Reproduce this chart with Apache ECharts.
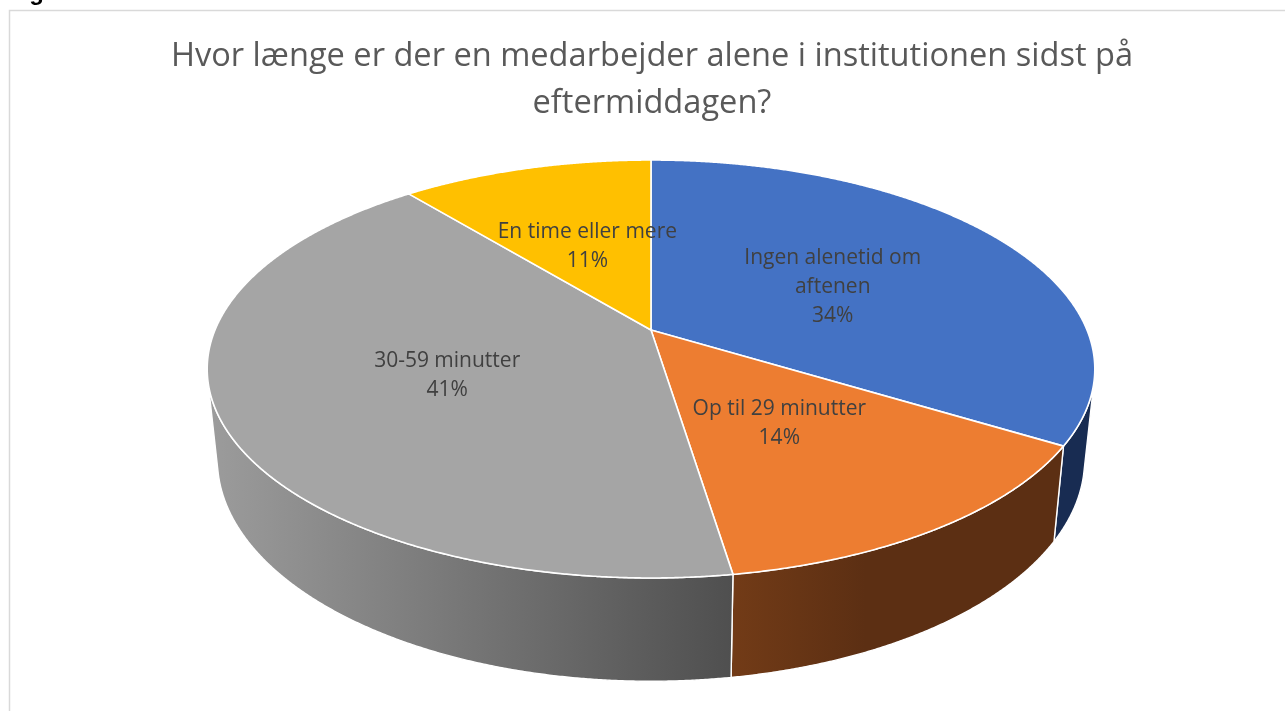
<!DOCTYPE html>
<html>
<head>
<meta charset="utf-8">
<style>html,body{margin:0;padding:0;background:#fff;overflow:hidden}#c{width:1285px;height:711px}</style>
<script src="https://cdn.jsdelivr.net/npm/echarts@6/dist/echarts.min.js"></script>
</head>
<body>
<div id="c"></div>
<script>
const categories = ['Ingen alenetid om\naftenen', 'Op til 29 minutter', '30-59 minutter', 'En time eller mere'];
const shares = [33.7, 13.85, 41.49, 10.96];
const topColors = ['#4472C4', '#ED7D31', '#A5A5A5', '#FFC000'];
const sideLeftColors = ['#182C52', '#723B17', '#9C9C9C', '#997300'];
const sideRightColors = ['#182C52', '#5C2F13', '#4F4F4F', '#997300'];
const titleText = 'Hvor længe er der en medarbejder alene i institutionen sidst på\neftermiddagen?';

// Projection of the round pie onto the page: a tilted disc with perspective.
const CX = 651, CY = 330, R = 436, A = 201.7, K = 0.1866;
const sideGradientSpan = [1, 0.4, 1, 1];
const labelNudge = [[0, 4.5], [-3, 2.5], [3, 3], [4, 4]];
const total = shares.reduce((a, b) => a + b, 0);
function project(theta, r) {
  const X = Math.sin(theta) * r, Y = Math.cos(theta) * r, w = 1 + K * Y;
  return [CX + R * X / w, CY - A * Y / w];
}
function lower(p) { return [CX + 0.977 * (p[0] - CX), 68.6 + 1.06 * p[1]]; }
function range(i) {
  let s = 0;
  for (let k = 0; k < i; k++) s += shares[k];
  return [s / total * 2 * Math.PI, (s + shares[i]) / total * 2 * Math.PI];
}
function angles(i) {
  const [a, b] = range(i), n = Math.max(4, Math.ceil((b - a) * 240)), out = [];
  for (let j = 0; j <= n; j++) out.push(a + (b - a) * j / n);
  return out;
}
function arc(i) { return angles(i).map(t => project(t, 1)); }
// The wall is visible only where the rim faces the viewer.
function facesViewer(t) {
  const p = project(t, 1), q = project(t + 0.001, 1), d = lower(p);
  return (q[0] - p[0]) * (d[1] - p[1]) - (q[1] - p[1]) * (d[0] - p[0]) < 0;
}
const sideItem = (params) => {
  const i = params.dataIndex;
  const top = angles(i).filter(facesViewer).map(t => project(t, 1));
  if (top.length < 2) return null;
  const base = top.map(lower).reverse();
  const xs = top.map(p => p[0]);
  const x1 = Math.max(...xs), x0 = Math.min(...xs);
  return {
    type: 'polygon',
    shape: { points: top.concat(base) },
    style: {
      fill: { type: 'linear', global: true,
        x: x0, y: 0,
        x2: x0 + (x1 - x0) * sideGradientSpan[i], y2: 0,
        colorStops: [{ offset: 0, color: sideLeftColors[i] }, { offset: 1, color: sideRightColors[i] }] },
      stroke: '#fff', lineWidth: 1.4, lineJoin: 'round'
    }
  };
};
const topItem = (params) => ({
  type: 'polygon',
  shape: { points: [[CX, CY]].concat(arc(params.dataIndex)) },
  style: { fill: topColors[params.dataIndex], stroke: '#fff', lineWidth: 1.6, lineJoin: 'round' }
});
const labelItem = (params) => {
  const i = params.dataIndex, [a, b] = range(i), p = project((a + b) / 2, 0.5);
  return {
    type: 'text',
    style: {
      x: p[0] + labelNudge[i][0], y: p[1] + labelNudge[i][1], align: 'center', verticalAlign: 'middle',
      text: categories[i] + '\n' + Math.round(shares[i]) + '%',
      font: '21px "Open Sans", sans-serif', lineHeight: 29, fill: '#404040'
    }
  };
};
const rows = shares.map((v, i) => ({ name: categories[i].replace('\n', ' '), value: [v, i] }));
const chart = echarts.init(document.getElementById('c'), null, { renderer: 'canvas' });
chart.setOption({
  animation: false,
  backgroundColor: '#fff',
  title: {
    text: titleText, left: 647, top: 28.5, textAlign: 'center',
    textStyle: { fontFamily: '"Open Sans", sans-serif', fontWeight: 'normal', fontSize: 32.6, lineHeight: 47, color: '#595959' }
  },
  graphic: [
    { type: 'rect', z: -1, shape: { x: 9.5, y: 10.5, width: 1400, height: 800 }, style: { fill: 'none', stroke: '#D9D9D9', lineWidth: 1.5 } },
    { type: 'text', style: { x: 8, y: -19, text: 'Figur', font: 'bold 24px "Liberation Sans", sans-serif', fill: '#000' } }
  ],
  series: [
    { type: 'custom', coordinateSystem: 'none', z: 2, data: rows, renderItem: sideItem },
    { type: 'custom', coordinateSystem: 'none', z: 3, data: rows, renderItem: topItem },
    { type: 'custom', coordinateSystem: 'none', z: 4, data: rows, renderItem: labelItem }
  ]
});
</script>
</body>
</html>
